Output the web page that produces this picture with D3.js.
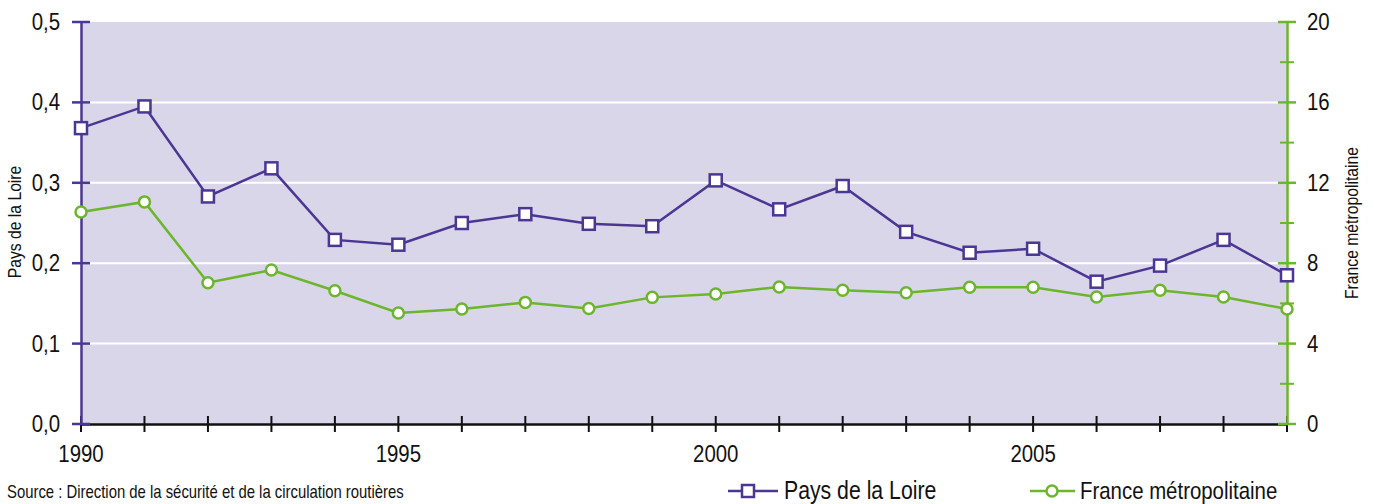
<!DOCTYPE html>
<html>
<head>
<meta charset="utf-8">
<script src="https://cdn.jsdelivr.net/npm/d3@7"></script>
<style>
    body { margin: 0; background: #fff; }
    svg { display: block; font-family: "Liberation Sans", Arial, sans-serif; }
</style>
</head>
<body>
<div id="chart"></div>
<script>
const years = d3.range(1990, 2010);
const paysLoire = [0.368, 0.395, 0.283, 0.318, 0.229, 0.223, 0.250, 0.261, 0.249, 0.246,
                   0.303, 0.267, 0.296, 0.239, 0.213, 0.218, 0.177, 0.197, 0.229, 0.185];
const france = [10.55, 11.05, 7.03, 7.66, 6.63, 5.52, 5.72, 6.05, 5.75, 6.3,
                6.47, 6.82, 6.65, 6.53, 6.8, 6.8, 6.32, 6.65, 6.32, 5.72];
const leftTicks = [0, 0.1, 0.2, 0.3, 0.4, 0.5];
const rightTicks = [0, 4, 8, 12, 16, 20];
const rightMinor = [2, 6, 10, 14, 18];
const yearLabels = [1990, 1995, 2000, 2005];

const purple = '#4b3793';
const green = '#6cb52d';
const squeeze = 0.85; // narrow the text like a condensed face

const width = 1374, height = 504;
const margin = { left: 81, right: 87, top: 22, bottom: 80 };

const svg = d3.select('#chart').append('svg')
    .attr('width', width)
    .attr('height', height);

// text drawn through a horizontal squeeze
function label(parent, tx, ty, str, size, anchor, rot) {
    const g = parent.append('g')
        .attr('transform', `translate(${tx},${ty}) rotate(${rot || 0}) scale(${squeeze},1)`);
    g.append('text')
        .attr('text-anchor', anchor || 'start')
        .attr('font-size', size)
        .attr('fill', '#111')
        .text(str);
    return g;
}

const x = d3.scaleLinear().domain([1990, 2009]).range([margin.left, width - margin.right]);
const yL = d3.scaleLinear().domain([0, 0.5]).range([height - margin.bottom, margin.top]);
const yR = d3.scaleLinear().domain([0, 20]).range([height - margin.bottom, margin.top]);

// plot background
svg.append('rect')
    .attr('x', x(1990)).attr('y', yL(0.5))
    .attr('width', x(2009) - x(1990)).attr('height', yL(0) - yL(0.5))
    .attr('fill', '#dad6ea');

// gridlines
svg.selectAll('.grid')
    .data(leftTicks.filter(d => d > 0 && d < 0.5))
    .enter().append('line')
    .attr('x1', x(1990)).attr('x2', x(2009))
    .attr('y1', d => yL(d)).attr('y2', d => yL(d))
    .attr('stroke', '#fff').attr('stroke-width', 2);

// bottom axis
const xAxis = svg.append('g')
    .attr('transform', `translate(0,${yL(0)})`)
    .call(d3.axisBottom(x).tickValues(years).tickSize(0).tickFormat(''));
xAxis.select('.domain').attr('stroke', '#111').attr('stroke-width', 2.5);
xAxis.selectAll('.tk')
    .data(years).enter().append('line')
    .attr('x1', d => x(d)).attr('x2', d => x(d))
    .attr('y1', -8).attr('y2', 8)
    .attr('stroke', '#111').attr('stroke-width', 2);
yearLabels.forEach(d => label(xAxis, x(d), 38, d, 24, 'middle'));

// left axis
const lAxis = svg.append('g')
    .attr('transform', `translate(${x(1990)},0)`)
    .call(d3.axisLeft(yL).tickValues(leftTicks).tickSize(0).tickFormat(''));
lAxis.select('.domain').attr('stroke', purple).attr('stroke-width', 2.5);
lAxis.selectAll('.tk')
    .data(leftTicks).enter().append('line')
    .attr('x1', -9).attr('x2', 9)
    .attr('y1', d => yL(d)).attr('y2', d => yL(d))
    .attr('stroke', purple).attr('stroke-width', 2.5);
leftTicks.forEach(d => label(lAxis, -21, yL(d) + 8, d3.format('.1f')(d).replace('.', ','), 24, 'end'));

// right axis
const rAxis = svg.append('g')
    .attr('transform', `translate(${x(2009)},0)`)
    .call(d3.axisRight(yR).tickValues(rightTicks).tickSize(0).tickFormat(''));
rAxis.select('.domain').attr('stroke', green).attr('stroke-width', 2.5);
rAxis.selectAll('.tk')
    .data(rightTicks).enter().append('line')
    .attr('x1', -9).attr('x2', 9)
    .attr('y1', d => yR(d)).attr('y2', d => yR(d))
    .attr('stroke', green).attr('stroke-width', 2.5);
rAxis.selectAll('.mn')
    .data(rightMinor).enter().append('line')
    .attr('x1', -7).attr('x2', 7)
    .attr('y1', d => yR(d)).attr('y2', d => yR(d))
    .attr('stroke', green).attr('stroke-width', 2);
rightTicks.forEach(d => label(rAxis, 20, yR(d) + 8, d, 24, 'start'));

// axis titles
label(svg, 21, 222, 'Pays de la Loire', 18.5, 'middle', -90);
label(svg, 1358, 223, 'France métropolitaine', 18.5, 'middle', -90);

// lines
const lineL = d3.line().x((d, i) => x(years[i])).y(d => yL(d));
const lineR = d3.line().x((d, i) => x(years[i])).y(d => yR(d));

svg.append('path').datum(france)
    .attr('d', lineR).attr('fill', 'none')
    .attr('stroke', green).attr('stroke-width', 2.5);
svg.selectAll('.pf')
    .data(france).enter().append('circle')
    .attr('cx', (d, i) => x(years[i])).attr('cy', d => yR(d))
    .attr('r', 5.5)
    .attr('fill', '#fff').attr('stroke', green).attr('stroke-width', 2.5);

svg.append('path').datum(paysLoire)
    .attr('d', lineL).attr('fill', 'none')
    .attr('stroke', purple).attr('stroke-width', 2.5);
svg.selectAll('.pl')
    .data(paysLoire).enter().append('rect')
    .attr('x', (d, i) => x(years[i]) - 6).attr('y', d => yL(d) - 6)
    .attr('width', 12).attr('height', 12)
    .attr('fill', '#fff').attr('stroke', purple).attr('stroke-width', 2.5);

// source
label(svg, 7, 498, 'Source : Direction de la sécurité et de la circulation routières', 17.5, 'start');

// legend
const lg1 = svg.append('g').attr('transform', 'translate(728,491)');
lg1.append('line').attr('x1', 0).attr('x2', 50).attr('stroke', purple).attr('stroke-width', 2.5);
lg1.append('rect').attr('x', 14).attr('y', -6).attr('width', 12).attr('height', 12)
    .attr('fill', '#fff').attr('stroke', purple).attr('stroke-width', 2.5);
label(lg1, 56, 8, 'Pays de la Loire', 25, 'start');

const lg2 = svg.append('g').attr('transform', 'translate(1030,491)');
lg2.append('line').attr('x1', 0).attr('x2', 45).attr('stroke', green).attr('stroke-width', 2.5);
lg2.append('circle').attr('cx', 22).attr('cy', 0).attr('r', 5.5)
    .attr('fill', '#fff').attr('stroke', green).attr('stroke-width', 2.5);
label(lg2, 50, 8, 'France métropolitaine', 24, 'start');
</script>
</body>
</html>
